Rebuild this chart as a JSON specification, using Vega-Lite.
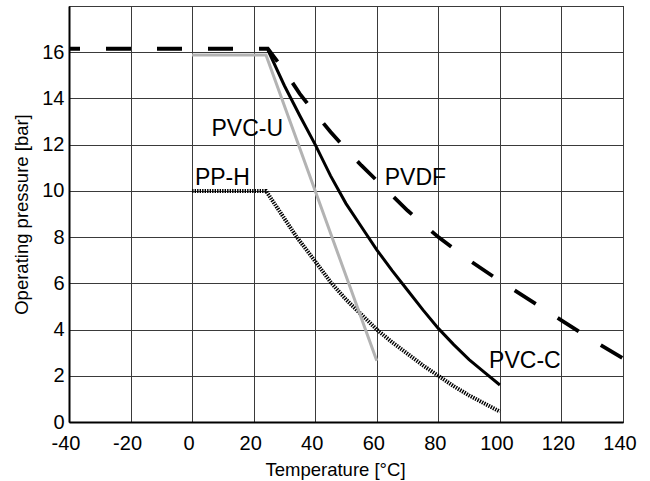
{
  "$schema": "https://vega.github.io/schema/vega-lite/v6.json",
  "autosize": {"type": "none"},
  "width": 554,
  "height": 416,
  "padding": {"left": 69, "top": 6, "right": 27, "bottom": 59},
  "background": "white",
  "config": {
    "view": {"stroke": "black", "strokeWidth": 1},
    "axis": {
      "labelFont": "Liberation Sans",
      "titleFont": "Liberation Sans",
      "labelColor": "black",
      "titleColor": "black",
      "titleFontWeight": "normal",
      "labelFontSize": 20,
      "titleFontSize": 18.5,
      "ticks": false,
      "domainColor": "black",
      "domainWidth": 2,
      "gridColor": "#3a3a3a",
      "gridWidth": 1,
      "gridOpacity": 1,
      "labelOverlap": false
    }
  },
  "datasets": {
    "curves": [
      {"series": "PVDF", "t": -40, "p": 16.15},
      {"series": "PVDF", "t": 24.6, "p": 16.15},
      {"series": "PVDF", "t": 30, "p": 15.2},
      {"series": "PVDF", "t": 35, "p": 14.2},
      {"series": "PVDF", "t": 40, "p": 13.35},
      {"series": "PVDF", "t": 45, "p": 12.55},
      {"series": "PVDF", "t": 50, "p": 11.8},
      {"series": "PVDF", "t": 55, "p": 11.1},
      {"series": "PVDF", "t": 60, "p": 10.45},
      {"series": "PVDF", "t": 65, "p": 9.8},
      {"series": "PVDF", "t": 70, "p": 9.15},
      {"series": "PVDF", "t": 80, "p": 8.0},
      {"series": "PVDF", "t": 90, "p": 7.0},
      {"series": "PVDF", "t": 100, "p": 6.1},
      {"series": "PVDF", "t": 110, "p": 5.25},
      {"series": "PVDF", "t": 120, "p": 4.4},
      {"series": "PVDF", "t": 130, "p": 3.55},
      {"series": "PVDF", "t": 140, "p": 2.75},
      {"series": "PVC-C", "t": 24.6, "p": 16.1},
      {"series": "PVC-C", "t": 30, "p": 14.55},
      {"series": "PVC-C", "t": 35, "p": 13.25},
      {"series": "PVC-C", "t": 40, "p": 12.0},
      {"series": "PVC-C", "t": 45, "p": 10.65},
      {"series": "PVC-C", "t": 50, "p": 9.45},
      {"series": "PVC-C", "t": 55, "p": 8.45},
      {"series": "PVC-C", "t": 60, "p": 7.45},
      {"series": "PVC-C", "t": 65, "p": 6.55},
      {"series": "PVC-C", "t": 70, "p": 5.7},
      {"series": "PVC-C", "t": 75, "p": 4.85},
      {"series": "PVC-C", "t": 80, "p": 4.05},
      {"series": "PVC-C", "t": 85, "p": 3.35},
      {"series": "PVC-C", "t": 90, "p": 2.7},
      {"series": "PVC-C", "t": 95, "p": 2.15},
      {"series": "PVC-C", "t": 100, "p": 1.6},
      {"series": "PVC-U", "t": 0, "p": 15.88},
      {"series": "PVC-U", "t": 24, "p": 15.88},
      {"series": "PVC-U", "t": 60, "p": 2.65},
      {"series": "PP-H", "t": 0, "p": 10},
      {"series": "PP-H", "t": 24, "p": 10},
      {"series": "PP-H", "t": 30, "p": 8.8},
      {"series": "PP-H", "t": 34, "p": 8.0},
      {"series": "PP-H", "t": 40, "p": 6.95},
      {"series": "PP-H", "t": 45, "p": 6.05},
      {"series": "PP-H", "t": 50, "p": 5.3},
      {"series": "PP-H", "t": 55, "p": 4.65},
      {"series": "PP-H", "t": 60, "p": 4.0},
      {"series": "PP-H", "t": 65, "p": 3.45},
      {"series": "PP-H", "t": 70, "p": 2.95},
      {"series": "PP-H", "t": 75, "p": 2.45},
      {"series": "PP-H", "t": 80, "p": 2.0},
      {"series": "PP-H", "t": 85, "p": 1.55},
      {"series": "PP-H", "t": 90, "p": 1.15},
      {"series": "PP-H", "t": 95, "p": 0.8},
      {"series": "PP-H", "t": 100, "p": 0.45}
    ],
    "labels": [
      {"label": "PVC-U", "t": 6.3, "p": 12.38},
      {"label": "PP-H", "t": 0.9, "p": 10.26},
      {"label": "PVDF", "t": 62.6, "p": 10.26},
      {"label": "PVC-C", "t": 96.5, "p": 2.32}
    ]
  },
  "encoding": {
    "x": {
      "field": "t",
      "type": "quantitative",
      "scale": {"domain": [-40, 140], "nice": false, "zero": false},
      "axis": {
        "title": "Temperature [°C]",
        "values": [-40, -20, 0, 20, 40, 60, 80, 100, 120, 140],
        "labelExpr": "datum.value < 0 ? '-' + abs(datum.value) : '' + datum.value",
        "labelFlush": false,
        "labelPadding": 11,
        "labelOffset": -3.5,
        "titleX": 266,
        "titleY": 53,
        "titleBaseline": "alphabetic",
        "titleAlign": "center"
      }
    },
    "y": {
      "field": "p",
      "type": "quantitative",
      "scale": {"domain": [0, 18], "nice": false, "zero": false},
      "axis": {
        "title": "Operating pressure [bar]",
        "values": [0, 2, 4, 6, 8, 10, 12, 14, 16, 18],
        "labelExpr": "datum.value == 18 ? '' : datum.label",
        "labelPadding": 5,
        "titleX": -42,
        "titleY": 208,
        "titleBaseline": "alphabetic",
        "titleAlign": "center",
        "titleAngle": -90
      }
    }
  },
  "layer": [
    {
      "data": {"name": "curves"},
      "transform": [{"filter": "datum.series == 'PP-H'"}],
      "mark": {"type": "line", "color": "black", "strokeWidth": 4, "strokeDash": [1.4, 1.1], "strokeCap": "butt"}
    },
    {
      "data": {"name": "curves"},
      "transform": [{"filter": "datum.series == 'PVC-U'"}],
      "mark": {"type": "line", "color": "#b3b3b3", "strokeWidth": 3, "strokeJoin": "miter"}
    },
    {
      "data": {"name": "curves"},
      "transform": [{"filter": "datum.series == 'PVC-C'"}],
      "mark": {"type": "line", "color": "black", "strokeWidth": 3, "strokeJoin": "miter"}
    },
    {
      "data": {"name": "curves"},
      "transform": [{"filter": "datum.series == 'PVDF'"}],
      "mark": {"type": "line", "color": "black", "strokeWidth": 3.8, "strokeDash": [25, 26], "strokeDashOffset": 14, "strokeCap": "butt"}
    },
    {
      "data": {"name": "labels"},
      "mark": {"type": "text", "align": "left", "baseline": "alphabetic", "font": "Liberation Sans", "fontSize": 23, "color": "black"},
      "encoding": {"text": {"field": "label"}}
    }
  ]
}
